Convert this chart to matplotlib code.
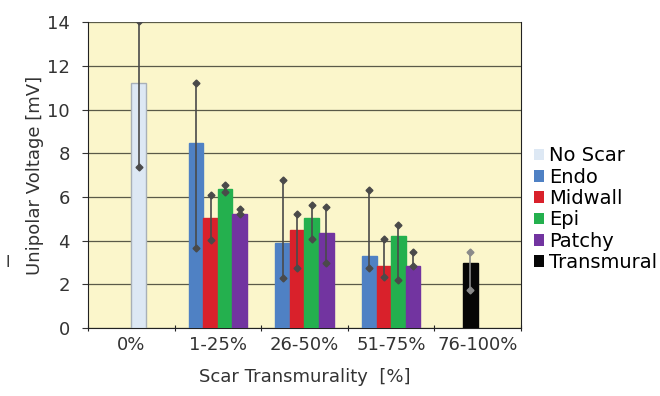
import matplotlib
matplotlib.use("Agg")
import matplotlib.pyplot as plt
import numpy as np
from matplotlib.patches import Patch

categories = ["0%", "1-25%", "26-50%", "51-75%", "76-100%"]
series = ["No Scar", "Endo", "Midwall", "Epi", "Patchy", "Transmural"]
colors = ["#dde8f4", "#4f81c4", "#d9212b", "#24b04e", "#7234a0", "#060606"]

# (category index, slot in group of 4, mean, whisker low, whisker high)
no_scar = [(0, 2, 11.2, 7.37, 14.05)]
endo = [(1, 0, 8.46, 3.65, 11.2), (2, 0, 3.87, 2.3, 6.8), (3, 0, 3.29, 2.73, 6.34)]
midwall = [(1, 1, 5.02, 4.04, 6.09), (2, 1, 4.51, 2.73, 5.2), (3, 1, 2.85, 2.35, 4.06)]
epi = [(1, 2, 6.36, 6.24, 6.54), (2, 2, 5.02, 4.06, 5.63), (3, 2, 4.21, 2.2, 4.71)]
patchy = [(1, 3, 5.2, 5.2, 5.47), (2, 3, 4.36, 2.97, 5.52), (3, 3, 2.85, 2.85, 3.46)]
transmural = [(4, 1, 2.96, 1.75, 3.46)]
data = [no_scar, endo, midwall, epi, patchy, transmural]

fig = plt.figure(figsize=(6.6, 3.96), dpi=100)
ax = fig.add_axes([0.1333, 0.1717, 0.656, 0.772])
ax.set_facecolor("#fbf6cb")

w = 0.168
for name, col, rows in zip(series, colors, data):
    for cat, slot, m, lo, hi in rows:
        x = cat + 0.5 + (slot - 1.5) * w
        ec = "#a8b0b8" if name == "No Scar" else col
        ax.bar(x + 0.012, m, w, color="#b8b8a0", alpha=0.5, zorder=2)
        ax.bar(x, m, w, color=col, edgecolor=ec, linewidth=1.0, zorder=3)
        ec2 = "#8a8a8a" if name == "Transmural" else "#4a4a4a"
        ax.plot([x, x], [lo, hi], color=ec2, lw=1.2, zorder=4)
        ax.plot([x, x], [lo, hi], ls="none", marker="D", ms=3.5,
                color=ec2, zorder=5)

ax.set_xlim(0, 5)
ax.set_ylim(0, 14)
ax.set_yticks(np.arange(0, 15, 2))
ax.set_xticks(np.arange(0, 6))
ax.set_xticklabels([])
ax.set_xticks(np.arange(len(categories)) + 0.5, minor=True)
ax.set_xticklabels(categories, minor=True)
ax.tick_params(axis="x", which="minor", length=0, pad=6, labelsize=13, colors="#333333")
ax.tick_params(axis="x", which="major", length=5, direction="inout", color="#222222")
ax.tick_params(axis="y", length=4, direction="out", pad=9, labelsize=13,
               colors="#333333")
ax.grid(axis="y", color="#5a5a48", lw=0.9, zorder=1)
ax.spines["top"].set_visible(False)
for s in ["left", "bottom", "right"]:
    ax.spines[s].set_color("#222222")
ax.set_axisbelow(True)

ax.set_ylabel("Unipolar Voltage [mV]", fontsize=13, color="#333333", labelpad=2)
ax.set_xlabel("Scar Transmurality  [%]", fontsize=13, color="#333333", labelpad=10)
fig.text(0.008, 0.338, "I", fontsize=11, color="#333333", va="center")

handles = [Patch(facecolor=c, edgecolor="none") for c in colors]
fig.legend(handles, series, loc="center left", bbox_to_anchor=(0.797, 0.472),
           frameon=False, fontsize=14, handlelength=0.55, handleheight=0.55,
           handletextpad=0.25, labelspacing=0.12, borderaxespad=0)

fig.savefig("out.png", dpi=100)
